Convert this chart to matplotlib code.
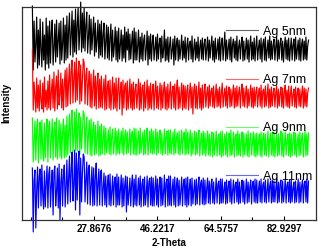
import numpy as np
import matplotlib
matplotlib.use("Agg")
import matplotlib.pyplot as plt

plt.rcParams['font.family'] = ['Liberation Sans', 'DejaVu Sans']

# 2-theta scan, 10 to 90 deg, 0.25 deg step
two_theta = np.arange(10.0, 90.001, 0.25)

ag5 = [214,150,199,158,176,203,152,190,155,201,170,153,198,160,185,150,202,156,194,152,
       199,157,188,200,155,172,196,158,200,163,181,197,156,199,160,176,202,157,195,160,
       204,162,190,207,165,185,209,163,200,168,211,166,195,212,170,188,218,168,207,172,
       212,169,195,208,167,183,205,166,201,170,186,203,164,197,168,180,200,162,196,165,
       199,163,185,197,161,178,195,162,193,160,182,196,159,190,163,175,193,160,189,158,
       192,161,176,190,159,185,162,193,158,188,170,191,160,186,161,177,189,157,192,160,
       188,160,174,190,158,183,161,187,159,180,185,160,171,189,155,184,161,186,159,178,
       185,160,172,183,159,186,161,176,182,158,184,162,170,190,159,181,160,183,158,175,
       183,161,170,181,155,184,160,177,182,159,180,161,172,185,160,179,162,183,158,174,
       182,160,176,179,161,184,158,171,181,160,178,162,183,159,173,180,161,182,160,176,
       181,160,171,183,159,180,162,175,184,160,179,158,182,161,170,181,160,183,159,177,
       182,160,174,188,159,180,161,172,181,160,183,158,176,181,162,179,160,184,159,173,
       180,161,176,183,159,179,160,171,182,161,180,158,175,184,160,178,161,182,159,174,
       184,160,172,180,161,182,158,176,181,160,183,159,170,180,162,184,160,179,161,175,
       181,160,173,183,159,180,161,177,182,160,179,158,174,183,161,180,160,182,159,172,
       182,160,175,181,159,183,161,171,180,160,182,159,176,181,160,179,161,183,160,174,
       180]

ag7 = [170,110,138,124,108,142,112,135,109,140,120,111,137,108,143,113,130,110,139,112,
       145,110,128,141,112,148,109,133,144,111,150,115,126,147,112,141,110,135,150,113,
       152,114,138,156,116,149,160,117,142,158,118,162,120,147,159,116,155,119,140,161,
       157,116,145,152,115,137,149,113,146,112,130,150,114,144,111,138,147,112,141,113,
       144,112,128,141,110,145,111,133,139,112,140,110,126,143,111,137,112,142,109,131,
       142,111,129,138,105,140,112,134,137,110,139,111,125,141,112,136,110,138,111,130,
       136,112,127,141,110,137,111,132,135,109,138,112,124,140,110,134,112,137,111,128,
       136,110,129,139,112,134,111,126,137,110,135,112,130,138,111,133,110,136,112,127,
       138,111,128,134,112,136,110,131,140,111,133,112,125,137,110,135,112,134,111,129,
       135,110,127,137,112,133,106,130,136,112,134,111,126,138,112,132,110,135,112,128,
       136,113,126,133,112,135,114,129,132,113,134,112,124,136,113,131,114,133,112,127,
       137,113,125,132,114,134,112,128,133,113,131,114,126,135,112,132,113,134,114,127,
       133,112,128,136,114,132,113,126,134,112,131,114,124,135,113,132,112,133,114,128,
       133,113,126,132,114,135,112,129,131,113,134,114,125,136,112,131,113,133,114,127,
       132,113,127,134,112,131,114,126,133,113,132,112,128,135,114,130,113,134,112,126,
       134,114,125,131,113,133,112,128,132,114,131,113,126,134,112,132,114,131,113,127,
       132]

ag9 = [102,58,80,99,60,92,101,57,85,98,61,100,70,59,97,62,88,101,58,94,
       99,62,82,101,60,90,98,63,102,61,79,100,63,96,61,87,101,62,95,63,
       104,65,88,106,67,99,110,68,84,108,70,111,69,95,107,66,103,71,90,109,
       106,67,92,103,66,85,100,65,101,64,90,98,65,95,66,83,99,64,94,65,
       96,66,80,94,65,92,67,78,90,66,93,65,84,91,66,77,92,65,89,67,
       91,66,79,89,67,92,65,83,90,66,88,67,76,91,65,86,89,66,92,65,
       91,65,80,89,66,92,67,77,88,65,90,66,84,92,65,78,89,67,91,66,
       89,66,79,91,65,88,67,83,90,66,87,65,76,91,66,85,89,65,90,67,
       90,66,78,88,65,91,67,82,87,66,89,65,75,90,66,84,88,65,91,66,
       88,66,80,90,64,87,66,77,89,65,88,66,83,90,64,79,87,65,89,66,
       87,64,78,89,65,86,64,81,88,63,87,65,75,89,64,82,86,65,88,63,
       89,64,77,86,65,88,63,80,87,64,90,65,74,88,63,83,86,64,89,65,
       86,64,79,88,63,87,65,76,86,64,89,63,81,87,65,77,88,64,86,63,
       87,65,78,86,64,88,63,82,87,65,86,64,75,89,63,80,87,65,88,64,
       88,63,77,87,64,86,65,81,89,64,87,63,76,88,65,79,86,64,87,63,
       86,64,80,88,65,87,63,77,86,64,88,65,82,87,63,78,89,64,86,65,
       87]

ag11 = [52,-12,40,50,-8,30,53,12,44,51,14,55,25,11,49,13,37,54,12,46,
        53,13,35,50,5,47,54,14,28,52,12,56,0,38,51,14,45,55,13,33,
        60,16,42,64,18,50,68,19,35,70,10,67,20,55,69,5,62,18,47,66,
        63,18,40,58,16,52,55,15,33,53,14,52,15,44,57,14,36,51,15,48,
        50,14,32,47,15,44,13,36,45,15,46,14,28,44,15,38,43,13,46,15,
        43,15,30,45,13,42,14,35,44,8,43,15,27,42,14,37,45,13,41,15,
        45,14,29,42,15,44,13,36,41,14,43,15,26,44,13,38,42,15,43,14,
        42,14,31,44,15,41,13,34,43,14,42,15,27,45,13,37,41,14,44,15,
        44,14,30,41,15,43,13,35,42,14,40,15,28,43,14,36,41,15,42,13,
        43,15,32,41,14,42,16,29,40,15,41,16,34,43,15,37,40,16,42,15,
        40,16,31,42,17,39,16,35,41,17,38,16,28,42,17,36,39,16,41,17,
        41,17,30,38,16,40,17,34,39,18,41,16,29,40,17,35,38,18,41,16,
        38,17,32,40,18,39,16,28,41,17,38,18,33,40,16,36,39,18,41,17,
        40,17,30,39,18,41,17,35,38,18,40,17,29,41,18,34,39,17,40,18,
        39,18,31,41,17,38,18,36,40,17,39,18,28,41,17,35,38,18,40,17,
        40,18,32,38,17,39,18,29,41,17,38,18,34,40,17,36,39,18,41,17,
        39]

labels = ['Ag 5nm', 'Ag 7nm', 'Ag 9nm', 'Ag 11nm']
colors = ['black', '#ff0000', '#00ff00', '#0000ff']

major_ticks = [27.8676, 46.2217, 64.5757, 82.9297]
minor_ticks = [9.5136, 18.6906, 37.0447, 55.3987, 73.7527]

fig = plt.figure(figsize=(3.19, 2.52), dpi=100)
ax = fig.add_axes([0.069, 0.127, 0.922, 0.845])

for ys, c, lab in zip([ag5, ag7, ag9, ag11], colors, labels):
    ax.plot(two_theta, ys, color=c, linewidth=0.85, label=lab, clip_on=False)

ax.set_xlim(7.0, 92.2)
ax.set_ylim(0, 213)
ax.set_xticks(major_ticks)
ax.set_xticklabels(['%.4f' % t for t in major_ticks], fontsize=7, fontweight='bold')
ax.set_xticks(minor_ticks, minor=True)
ax.set_yticks([])
ax.tick_params(axis='x', which='major', direction='in', length=3, width=0.8, pad=3)
ax.tick_params(axis='x', which='minor', direction='in', length=2, width=0.8)

for s in ax.spines.values():
    s.set_linewidth(0.9)
    s.set_color('#333333')

ax.set_xlabel('2-Theta', fontsize=7, fontweight='bold', labelpad=3)
ax.set_ylabel('Intensity', fontsize=7, fontweight='bold')
ax.yaxis.set_label_coords(-0.035, 0.55)

leg = ax.legend(loc='upper left', bbox_to_anchor=(0.695, 0.912), frameon=False,
                fontsize=9, handlelength=2.5, handletextpad=0.4,
                labelspacing=2.9, borderpad=0, borderaxespad=0)
for h in leg.get_lines():
    h.set_linewidth(0.8)
    h.set_alpha(0.6)

fig.savefig('out.png', dpi=100)
